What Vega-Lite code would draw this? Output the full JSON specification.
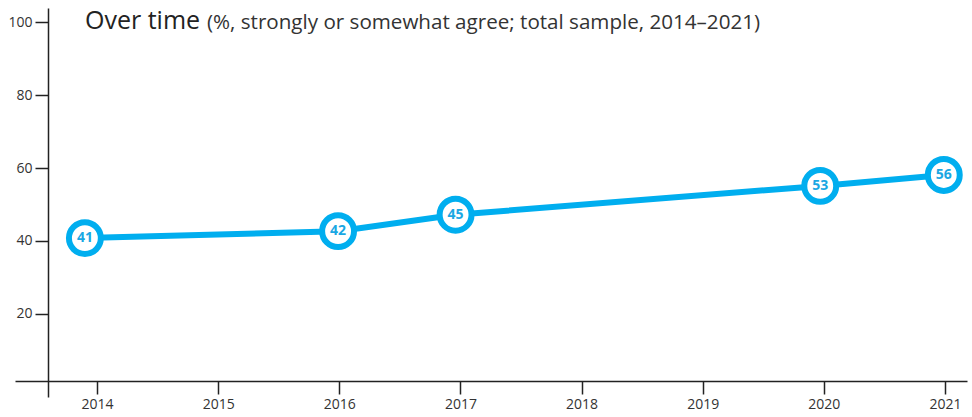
{
  "$schema": "https://vega.github.io/schema/vega-lite/v6.json",
  "width": 952,
  "height": 389,
  "autosize": "none",
  "padding": {"left": 15, "top": 8, "right": 5, "bottom": 20},
  "background": "white",
  "config": {"view": {"stroke": null}},
  "data": {
    "values": [
      {"year": 2013.9, "value": 40.8, "label": "41"},
      {"year": 2015.99, "value": 42.7, "label": "42"},
      {"year": 2016.96, "value": 47.2, "label": "45"},
      {"year": 2019.97, "value": 55.1, "label": "53"},
      {"year": 2020.99, "value": 58.1, "label": "56"}
    ]
  },
  "layer": [
    {
      "mark": {"type": "line", "color": "#00AEEF", "strokeWidth": 6},
      "encoding": {
        "x": {
          "field": "year",
          "type": "quantitative",
          "scale": {"domain": [2013.3231, 2021.1816], "nice": false, "zero": false},
          "axis": {
            "values": [2014, 2015, 2016, 2017, 2018, 2019, 2020, 2021],
            "format": "d",
            "orient": "bottom",
            "offset": -16,
            "tickSize": 13,
            "tickWidth": 1.5,
            "tickColor": "#222",
            "domainColor": "#222",
            "domainWidth": 1.5,
            "grid": false,
            "labelFont": "Open Sans",
            "labelFontSize": 14,
            "labelColor": "#333",
            "labelPadding": 3,
            "title": null
          }
        },
        "y": {
          "field": "value",
          "type": "quantitative",
          "scale": {"domain": [-2.74, 103.836], "nice": false, "zero": false},
          "axis": {
            "values": [20, 40, 60, 80, 100],
            "orient": "left",
            "offset": -33,
            "tickSize": 13,
            "tickWidth": 1.5,
            "tickColor": "#222",
            "domainColor": "#222",
            "domainWidth": 1.5,
            "grid": false,
            "labelFont": "Open Sans",
            "labelFontSize": 14,
            "labelColor": "#333",
            "labelPadding": 3,
            "title": null
          }
        }
      }
    },
    {
      "mark": {"type": "point", "shape": "circle", "filled": true, "fill": "white", "stroke": "#00AEEF", "strokeWidth": 6, "size": 1018, "opacity": 1},
      "encoding": {
        "x": {"field": "year", "type": "quantitative"},
        "y": {"field": "value", "type": "quantitative"}
      }
    },
    {
      "mark": {"type": "text", "font": "Open Sans", "fontWeight": "bold", "fontSize": 14, "color": "#1AA7E3", "align": "center", "baseline": "middle"},
      "encoding": {
        "x": {"field": "year", "type": "quantitative"},
        "y": {"field": "value", "type": "quantitative"},
        "text": {"field": "label"}
      }
    },
    {
      "data": {"values": [{"t": "Over time"}]},
      "mark": {"type": "text", "font": "Open Sans", "fontSize": 25, "fontWeight": 500, "color": "#222", "align": "left", "baseline": "alphabetic"},
      "encoding": {
        "x": {"datum": 2013.901},
        "y": {"datum": 98.1},
        "text": {"field": "t"}
      }
    },
    {
      "data": {"values": [{"t": "(%, strongly or somewhat agree; total sample, 2014–2021)"}]},
      "mark": {"type": "text", "font": "Open Sans", "fontSize": 20.6, "color": "#333", "align": "left", "baseline": "alphabetic"},
      "encoding": {
        "x": {"datum": 2014.908},
        "y": {"datum": 98.1},
        "text": {"field": "t"}
      }
    }
  ]
}
